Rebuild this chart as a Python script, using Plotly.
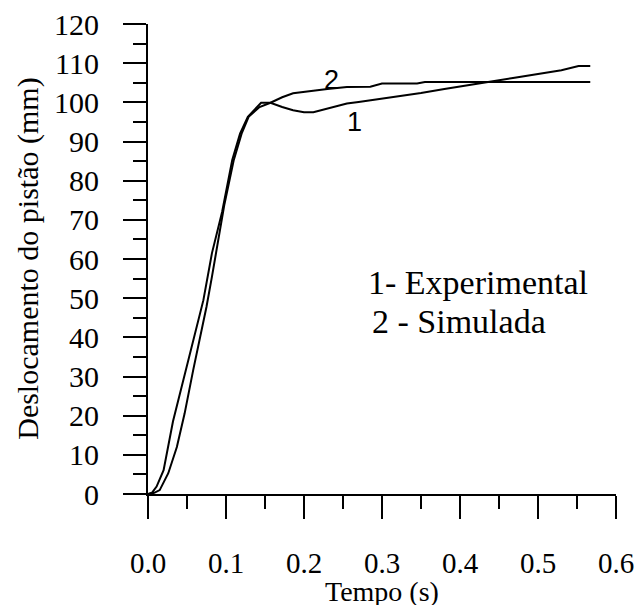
import plotly.graph_objects as go

# Experimental curve (1)
exp_t = [0.000, 0.005, 0.011, 0.020, 0.032, 0.045, 0.054, 0.071, 0.082, 0.095,
         0.108, 0.118, 0.128, 0.145, 0.157, 0.172, 0.186, 0.200, 0.212, 0.225,
         0.237, 0.255, 0.270, 0.285, 0.300, 0.320, 0.350, 0.380, 0.410, 0.440,
         0.470, 0.500, 0.530, 0.552, 0.567]
exp_v = [0.0, 0.3, 1.9, 6.1, 18.5, 29.1, 35.9, 49.5, 61.5, 72.0,
         85.3, 92.0, 96.3, 99.9, 99.9, 98.8, 98.0, 97.5, 97.5, 98.2,
         98.9, 99.7, 100.1, 100.5, 101.0, 101.5, 102.4, 103.4, 104.3, 105.3,
         106.3, 107.2, 108.2, 109.3, 109.3]

# Simulated curve (2)
sim_t = [0.000, 0.008, 0.015, 0.026, 0.037, 0.047, 0.058, 0.075, 0.082, 0.088,
         0.098, 0.110, 0.120, 0.129, 0.143, 0.157, 0.172, 0.186, 0.210, 0.230,
         0.255, 0.285, 0.300, 0.345, 0.355, 0.567]
sim_v = [0.0, 0.3, 1.0, 5.3, 12.0, 20.6, 31.7, 47.8, 55.5, 62.3,
         74.0, 85.3, 92.0, 96.3, 98.8, 99.9, 101.3, 102.3, 103.0, 103.4,
         103.9, 104.0, 104.8, 104.8, 105.2, 105.2]

x_tick_vals = [0.0, 0.1, 0.2, 0.3, 0.4, 0.5, 0.6]
x_tick_text = ["0.0", "0.1", "0.2", "0.3", "0.4", "0.5", "0.6"]
y_tick_vals = [0, 10, 20, 30, 40, 50, 60, 70, 80, 90, 100, 110, 120]

x_title = "Tempo (s)"
y_title = "Deslocamento do pistão (mm)"
legend_lines = ["1- Experimental", "2 - Simulada"]

SERIF = "Liberation Serif, Times New Roman, serif"
SANS = "Liberation Sans, Arial, sans-serif"

fig = go.Figure()
fig.add_trace(go.Scatter(x=exp_t, y=exp_v, mode="lines",
                         line=dict(color="black", width=2), showlegend=False))
fig.add_trace(go.Scatter(x=sim_t, y=sim_v, mode="lines",
                         line=dict(color="black", width=2), showlegend=False))

fig.update_xaxes(
    range=[0, 0.6], tickvals=x_tick_vals, ticktext=x_tick_text, automargin=False,
    showgrid=False, zeroline=False, showline=True, linecolor="black", linewidth=2,
    ticks="outside", ticklen=23, tickwidth=2, tickcolor="black",
    ticklabelstandoff=19,
    tickfont=dict(family=SERIF, size=29, color="black"),
    minor=dict(dtick=0.05, ticks="outside", ticklen=13, tickwidth=2, tickcolor="black"),
)
fig.update_yaxes(
    range=[0, 120], tickvals=y_tick_vals, automargin=False,
    showgrid=False, zeroline=False, showline=True, linecolor="black", linewidth=2,
    ticks="outside", ticklen=23, tickwidth=2, tickcolor="black",
    ticklabelstandoff=18,
    tickfont=dict(family=SERIF, size=30, color="black"),
    minor=dict(dtick=5, ticks="outside", ticklen=13, tickwidth=2, tickcolor="black"),
)

annotations = [
    dict(text=x_title, xref="paper", yref="paper", x=0.5, y=-0.207,
         xanchor="center", yanchor="middle", showarrow=False,
         font=dict(family=SERIF, size=28, color="black")),
    dict(text=y_title, xref="paper", yref="paper", x=-0.258, y=0.501,
         xanchor="center", yanchor="middle", textangle=-90, showarrow=False,
         font=dict(family=SERIF, size=30, color="black")),
    dict(text=legend_lines[0], xref="x", yref="y", x=0.279, y=54.1,
         xanchor="left", yanchor="middle", showarrow=False,
         font=dict(family=SERIF, size=34, color="black")),
    dict(text=legend_lines[1], xref="x", yref="y", x=0.284, y=44.1,
         xanchor="left", yanchor="middle", showarrow=False,
         font=dict(family=SERIF, size=34, color="black")),
    dict(text="2", xref="x", yref="y", x=0.235, y=105.7,
         xanchor="center", yanchor="middle", showarrow=False,
         font=dict(family=SANS, size=27, color="black")),
    dict(text="1", xref="x", yref="y", x=0.265, y=95.0,
         xanchor="center", yanchor="middle", showarrow=False,
         font=dict(family=SANS, size=27, color="black")),
]

fig.update_layout(
    width=638, height=605,
    margin=dict(l=148, r=22, t=24, b=111),
    paper_bgcolor="white", plot_bgcolor="white",
    annotations=annotations,
    showlegend=False,
)

fig.write_html("out.html", config={"displayModeBar": False},
               post_script="document.body.style.margin='0';")
